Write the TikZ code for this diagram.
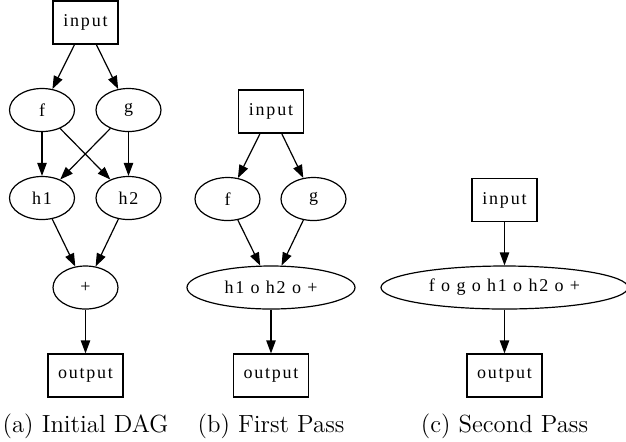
\documentclass[tikz,border=0pt]{standalone}
\usepackage{fontspec}
\newfontfamily\gvfont[LetterSpace=10]{Liberation Serif}
\usetikzlibrary{shapes.geometric,arrows.meta}

\begin{document}
\begin{tikzpicture}[x=0.5pt, y=-0.5pt, line width=0.6pt,
		box/.style = {draw, rectangle, inner sep=0pt, minimum width=32.5pt, minimum height=21.5pt, font=\gvfont\fontsize{9}{10}\selectfont},
		op/.style = {draw, ellipse, inner sep=0pt, minimum width=32.5pt, minimum height=21.5pt, font=\gvfont\fontsize{9}{10}\selectfont},
		caption/.style = {font=\fontsize{12.4}{14}\selectfont},
		>={Triangle[length=6.5pt, width=4.7pt]}]
	\useasboundingbox (0,0) rectangle (626,441);

	% (a) initial DAG
	\node[box] (ain) at (85.5,22.5) {input};
	\node[op] (af) at (42,110) {f};
	\node[op] (ag) at (128.5,110) {g};
	\node[op] (ah1) at (42,198) {h1};
	\node[op] (ah2) at (128.5,198) {h2};
	\node[op] (aplus) at (85.5,287.5) {+};
	\node[box, minimum width=37.5pt] (aout) at (85.5,375.5) {output};
	\node[caption] (acap) at (85.5,426) {(a) Initial DAG};

	\draw[->] (ain) to (af);
	\draw[->] (ain) to (ag);
	\draw[->] (af) to (ah1);
	\draw[->] (af) to (ah2);
	\draw[->] (ag) to (ah1);
	\draw[->] (ag) to (ah2);
	\draw[->] (ah1) to (aplus);
	\draw[->] (ah2) to (aplus);
	\draw[->] (aplus) to (aout);

	% (b) first pass
	\node[box] (bin) at (271,111.5) {input};
	\node[op] (bf) at (227.5,199) {f};
	\node[op] (bg) at (313.5,199) {g};
	\node[op, minimum width=84pt] (bh) at (271,287.5) {h1 o h2 o +};
	\node[box, minimum width=37.5pt] (bout) at (271,375.5) {output};
	\node[caption] (bcap) at (271,426) {(b) First Pass};

	\draw[->] (bin) to (bf);
	\draw[->] (bin) to (bg);
	\draw[->] (bf) to (bh);
	\draw[->] (bg) to (bh);
	\draw[->] (bh) to (bout);

	% (c) second pass
	\node[box] (cin) at (504.5,200) {input};
	\node[op, minimum width=123.5pt] (call) at (504.5,287.5) {f o g o h1 o h2 o +};
	\node[box, minimum width=37.5pt] (cout) at (504.5,375.5) {output};
	\node[caption] (ccap) at (504.5,426) {(c) Second Pass};

	\draw[->] (cin) to (call);
	\draw[->] (call) to (cout);
\end{tikzpicture}
\end{document}
